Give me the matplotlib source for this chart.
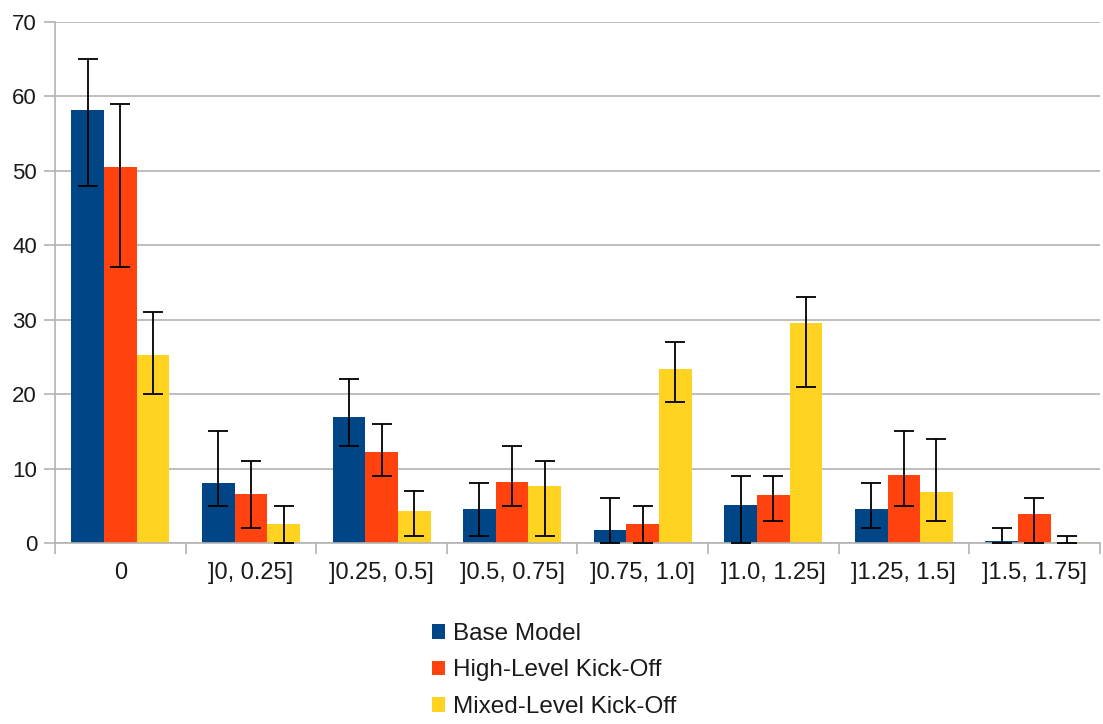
import numpy as np
import matplotlib.pyplot as plt

plt.rcParams['font.family'] = ['Liberation Sans', 'DejaVu Sans']

categories = ["0", "]0, 0.25]", "]0.25, 0.5]", "]0.5, 0.75]", "]0.75, 1.0]",
              "]1.0, 1.25]", "]1.25, 1.5]", "]1.5, 1.75]"]
series = ["Base Model", "High-Level Kick-Off", "Mixed-Level Kick-Off"]

base = [58.1, 8.1, 16.9, 4.6, 1.8, 5.1, 4.6, 0.3]
base_lo = [48, 5, 13, 1, 0, 0, 2, 0]
base_hi = [65, 15, 22, 8, 6, 9, 8, 2]

high = [50.5, 6.6, 12.2, 8.2, 2.5, 6.4, 9.1, 3.9]
high_lo = [37, 2, 9, 5, 0, 3, 5, 0]
high_hi = [59, 11, 16, 13, 5, 9, 15, 6]

mixed = [25.2, 2.5, 4.3, 7.6, 23.3, 29.6, 6.8, 0.1]
mixed_lo = [20, 0, 1, 1, 19, 21, 3, 0]
mixed_hi = [31, 5, 7, 11, 27, 33, 14, 1]

colors = ["#004586", "#ff420e", "#ffd320"]

fig = plt.figure(figsize=(11.03, 7.24), dpi=100)
ax = fig.add_axes([0.05, 0.25, 0.947, 0.72])

x = np.arange(len(categories))
w = 0.25
data = [(base, base_lo, base_hi), (high, high_lo, high_hi), (mixed, mixed_lo, mixed_hi)]
for i, (vals, lo, hi) in enumerate(data):
    vals = np.array(vals)
    yerr = [vals - np.array(lo), np.array(hi) - vals]
    ax.bar(x + (i - 1) * w, vals, w, color=colors[i], label=series[i], zorder=2)
    ax.errorbar(x + (i - 1) * w, vals, yerr=yerr, fmt="none", ecolor="black",
                elinewidth=1.3, capsize=7, capthick=1.3, zorder=3)

ax.set_xlim(-0.5, len(categories) - 0.5)
ax.set_ylim(0, 70)
ax.set_yticks(range(0, 71, 10))
ax.yaxis.grid(True, color="#b3b3b3", linewidth=1.2, zorder=0)
ax.set_axisbelow(True)

# ticks sit on category boundaries, labels in the middle
ax.set_xticks(np.arange(-0.5, len(categories), 1.0))
ax.set_xticklabels([])
ax.set_xticks(x, minor=True)
ax.set_xticklabels(categories, minor=True)
ax.tick_params(axis="x", which="minor", length=0, labelsize=17, pad=14, colors="#1a1a1a")
ax.tick_params(axis="x", which="major", length=8, color="#b3b3b3", width=1.2)
ax.tick_params(axis="y", length=8, color="#b3b3b3", width=1.2, labelsize=16,
               labelcolor="#1a1a1a", pad=5)

for s in ["top", "right"]:
    ax.spines[s].set_visible(False)
for s in ["left", "bottom"]:
    ax.spines[s].set_color("#b3b3b3")
    ax.spines[s].set_linewidth(1.2)

handles, labels = ax.get_legend_handles_labels()
leg = fig.legend(handles, labels, loc="center left", bbox_to_anchor=(432 / 1103, 0.074),
                 ncol=1, frameon=False, fontsize=17.5, handlelength=0.55, handleheight=0.55,
                 handletextpad=0.3, labelspacing=0.6, borderpad=0, borderaxespad=0)
for t in leg.get_texts():
    t.set_color("#1a1a1a")

fig.savefig("out.png", dpi=100)
